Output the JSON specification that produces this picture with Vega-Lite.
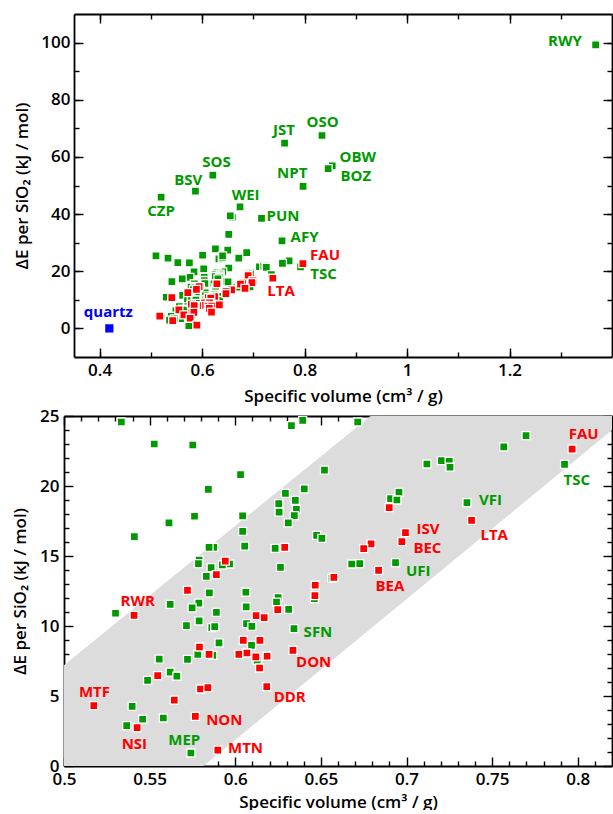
{
  "$schema": "https://vega.github.io/schema/vega-lite/v6.json",
  "padding": {"left": 11, "top": 13, "right": 1, "bottom": 0},
  "config": {
    "view": {"stroke": null},
    "font": "Open Sans",
    "axis": {
      "zindex": 1, "grid": false,
      "domainColor": "black", "domainWidth": 1.8,
      "tickColor": "black", "tickWidth": 1.4,
      "labelFont": "Open Sans", "labelFontSize": 17, "labelFontWeight": 600, "labelColor": "black",
      "titleFont": "Open Sans", "titleFontSize": 17, "titleFontWeight": 600, "titleColor": "black",
      "labelOverlap": false, "labelBound": false, "labelFlush": false
    }
  },
  "spacing": 3,
  "datasets": {
    "pts": [
      {"x": 0.5335, "y": 24.57, "c": "green"}, {"x": 0.5527, "y": 23.0, "c": "green"}, {"x": 0.5752, "y": 22.93, "c": "green"},
      {"x": 0.6328, "y": 24.31, "c": "green"}, {"x": 0.6394, "y": 24.69, "c": "green"}, {"x": 0.6031, "y": 20.81, "c": "green"},
      {"x": 0.5843, "y": 19.76, "c": "green"}, {"x": 0.6521, "y": 21.14, "c": "green"}, {"x": 0.6403, "y": 19.79, "c": "green"},
      {"x": 0.6293, "y": 19.48, "c": "green"}, {"x": 0.6351, "y": 18.98, "c": "green"}, {"x": 0.6254, "y": 18.74, "c": "green"},
      {"x": 0.6357, "y": 18.34, "c": "green"}, {"x": 0.6256, "y": 18.14, "c": "green"}, {"x": 0.6345, "y": 17.89, "c": "green"},
      {"x": 0.631, "y": 17.36, "c": "green"}, {"x": 0.5762, "y": 17.84, "c": "green"}, {"x": 0.6043, "y": 17.86, "c": "green"},
      {"x": 0.5613, "y": 17.36, "c": "green"}, {"x": 0.5411, "y": 16.39, "c": "green"}, {"x": 0.6043, "y": 16.76, "c": "green"},
      {"x": 0.6475, "y": 16.48, "c": "green"}, {"x": 0.6506, "y": 16.26, "c": "green"}, {"x": 0.6055, "y": 15.71, "c": "green"},
      {"x": 0.5874, "y": 15.62, "c": "green"}, {"x": 0.5847, "y": 15.62, "c": "green"}, {"x": 0.6233, "y": 15.55, "c": "green"},
      {"x": 0.5789, "y": 14.71, "c": "green"}, {"x": 0.5785, "y": 14.45, "c": "green"}, {"x": 0.5967, "y": 14.43, "c": "green"},
      {"x": 0.5925, "y": 14.36, "c": "green"}, {"x": 0.5859, "y": 14.17, "c": "green"}, {"x": 0.6264, "y": 14.19, "c": "green"},
      {"x": 0.5831, "y": 13.55, "c": "green"}, {"x": 0.6565, "y": 13.4, "c": "green"}, {"x": 0.6462, "y": 11.95, "c": "green"},
      {"x": 0.5849, "y": 12.36, "c": "green"}, {"x": 0.6062, "y": 12.41, "c": "green"}, {"x": 0.625, "y": 12.03, "c": "green"},
      {"x": 0.6241, "y": 11.71, "c": "green"}, {"x": 0.562, "y": 11.55, "c": "green"}, {"x": 0.5787, "y": 11.64, "c": "green"},
      {"x": 0.5748, "y": 11.29, "c": "green"}, {"x": 0.6064, "y": 11.36, "c": "green"}, {"x": 0.6312, "y": 11.19, "c": "green"},
      {"x": 0.589, "y": 10.98, "c": "green"}, {"x": 0.5301, "y": 10.91, "c": "green"}, {"x": 0.5715, "y": 10.03, "c": "green"},
      {"x": 0.5789, "y": 10.36, "c": "green"}, {"x": 0.5863, "y": 9.88, "c": "green"}, {"x": 0.588, "y": 9.95, "c": "green"},
      {"x": 0.5905, "y": 8.79, "c": "green"}, {"x": 0.5869, "y": 7.9, "c": "green"}, {"x": 0.5781, "y": 7.98, "c": "green"},
      {"x": 0.5721, "y": 7.62, "c": "green"}, {"x": 0.5556, "y": 7.64, "c": "green"}, {"x": 0.562, "y": 6.71, "c": "green"},
      {"x": 0.5659, "y": 6.41, "c": "green"}, {"x": 0.5488, "y": 6.12, "c": "green"}, {"x": 0.5398, "y": 4.26, "c": "green"},
      {"x": 0.558, "y": 3.43, "c": "green"}, {"x": 0.5459, "y": 3.34, "c": "green"}, {"x": 0.5366, "y": 2.88, "c": "green"},
      {"x": 0.5741, "y": 0.93, "c": "green"}, {"x": 0.6095, "y": 8.62, "c": "green"}, {"x": 0.6128, "y": 7.55, "c": "green"},
      {"x": 0.6066, "y": 10.17, "c": "green"}, {"x": 0.6097, "y": 9.98, "c": "green"}, {"x": 0.6343, "y": 9.81, "c": "green"},
      {"x": 0.6715, "y": 24.57, "c": "green"}, {"x": 0.7698, "y": 23.6, "c": "green"}, {"x": 0.7568, "y": 22.79, "c": "green"},
      {"x": 0.7923, "y": 21.55, "c": "green"}, {"x": 0.7119, "y": 21.57, "c": "green"}, {"x": 0.7204, "y": 21.81, "c": "green"},
      {"x": 0.725, "y": 21.76, "c": "green"}, {"x": 0.7254, "y": 21.34, "c": "green"}, {"x": 0.6956, "y": 19.55, "c": "green"},
      {"x": 0.6907, "y": 19.1, "c": "green"}, {"x": 0.6944, "y": 19.0, "c": "green"}, {"x": 0.7353, "y": 18.81, "c": "green"},
      {"x": 0.668, "y": 14.43, "c": "green"}, {"x": 0.6727, "y": 14.46, "c": "green"}, {"x": 0.6936, "y": 14.53, "c": "green"},
      {"x": 1.368, "y": 99.2, "c": "green"}, {"x": 0.834, "y": 67.5, "c": "green"}, {"x": 0.761, "y": 64.8, "c": "green"},
      {"x": 0.854, "y": 56.9, "c": "green"}, {"x": 0.846, "y": 55.9, "c": "green"}, {"x": 0.797, "y": 49.7, "c": "green"},
      {"x": 0.621, "y": 53.6, "c": "green"}, {"x": 0.587, "y": 48.0, "c": "green"}, {"x": 0.52, "y": 45.9, "c": "green"},
      {"x": 0.674, "y": 42.5, "c": "green"}, {"x": 0.659, "y": 38.9, "c": "green"}, {"x": 0.655, "y": 39.4, "c": "green"},
      {"x": 0.716, "y": 38.5, "c": "green"}, {"x": 0.652, "y": 32.9, "c": "green"}, {"x": 0.756, "y": 30.6, "c": "green"},
      {"x": 0.626, "y": 27.8, "c": "green"}, {"x": 0.65, "y": 27.4, "c": "green"}, {"x": 0.687, "y": 26.5, "c": "green"},
      {"x": 0.51, "y": 25.4, "c": "green"}, {"x": 0.601, "y": 25.6, "c": "green"}, {"x": 0.64, "y": 25.4, "c": "green"},
      {"x": 0.5942, "y": 14.64, "c": "red"}, {"x": 0.6289, "y": 15.62, "c": "red"}, {"x": 0.589, "y": 13.67, "c": "red"},
      {"x": 0.6576, "y": 13.48, "c": "red"}, {"x": 0.6467, "y": 12.91, "c": "red"}, {"x": 0.6465, "y": 12.17, "c": "red"},
      {"x": 0.5721, "y": 12.55, "c": "red"}, {"x": 0.6248, "y": 11.17, "c": "red"}, {"x": 0.6122, "y": 10.74, "c": "red"},
      {"x": 0.6169, "y": 10.6, "c": "red"}, {"x": 0.5409, "y": 10.76, "c": "red"}, {"x": 0.5791, "y": 8.5, "c": "red"},
      {"x": 0.5847, "y": 7.98, "c": "red"}, {"x": 0.5547, "y": 6.46, "c": "red"}, {"x": 0.5797, "y": 5.5, "c": "red"},
      {"x": 0.584, "y": 5.6, "c": "red"}, {"x": 0.5644, "y": 4.71, "c": "red"}, {"x": 0.5174, "y": 4.31, "c": "red"},
      {"x": 0.5767, "y": 3.55, "c": "red"}, {"x": 0.5427, "y": 2.74, "c": "red"}, {"x": 0.5898, "y": 1.14, "c": "red"},
      {"x": 0.6047, "y": 8.98, "c": "red"}, {"x": 0.6144, "y": 8.98, "c": "red"}, {"x": 0.6021, "y": 7.98, "c": "red"},
      {"x": 0.6068, "y": 8.07, "c": "red"}, {"x": 0.612, "y": 7.79, "c": "red"}, {"x": 0.6186, "y": 7.84, "c": "red"},
      {"x": 0.6142, "y": 7.0, "c": "red"}, {"x": 0.6337, "y": 8.26, "c": "red"}, {"x": 0.6184, "y": 5.67, "c": "red"},
      {"x": 0.7967, "y": 22.64, "c": "red"}, {"x": 0.6899, "y": 18.46, "c": "red"}, {"x": 0.738, "y": 17.55, "c": "red"},
      {"x": 0.6994, "y": 16.67, "c": "red"}, {"x": 0.6973, "y": 16.03, "c": "red"}, {"x": 0.6793, "y": 15.86, "c": "red"},
      {"x": 0.675, "y": 15.53, "c": "red"}, {"x": 0.6837, "y": 13.98, "c": "red"},
      {"x": 0.419, "y": 0, "c": "quartz"}
    ],
    "labTop": [
      {"lx": 1.308, "ly": 100.5, "t": "RWY", "c": "green"}, {"lx": 0.835, "ly": 72.1, "t": "OSO", "c": "green"},
      {"lx": 0.76, "ly": 69.3, "t": "JST", "c": "green"}, {"lx": 0.904, "ly": 59.8, "t": "OBW", "c": "green"},
      {"lx": 0.9, "ly": 53.4, "t": "BOZ", "c": "green"}, {"lx": 0.776, "ly": 54.2, "t": "NPT", "c": "green"},
      {"lx": 0.628, "ly": 58.1, "t": "SOS", "c": "green"}, {"lx": 0.573, "ly": 51.8, "t": "BSV", "c": "green"},
      {"lx": 0.52, "ly": 41.1, "t": "CZP", "c": "green"}, {"lx": 0.685, "ly": 46.7, "t": "WEI", "c": "green"},
      {"lx": 0.758, "ly": 39.2, "t": "PUN", "c": "green"}, {"lx": 0.8, "ly": 31.9, "t": "AFY", "c": "green"},
      {"lx": 0.84, "ly": 25.7, "t": "FAU", "c": "red"}, {"lx": 0.837, "ly": 19.1, "t": "TSC", "c": "green"},
      {"lx": 0.754, "ly": 13.2, "t": "LTA", "c": "red"}, {"lx": 0.417, "ly": 5.7, "t": "quartz", "c": "quartz"}
    ],
    "labBot": [
      {"lx": 0.8035, "ly": 23.7, "t": "FAU", "c": "red"}, {"lx": 0.7994, "ly": 20.4, "t": "TSC", "c": "green"},
      {"lx": 0.749, "ly": 18.98, "t": "VFI", "c": "green"}, {"lx": 0.7512, "ly": 16.5, "t": "LTA", "c": "red"},
      {"lx": 0.7126, "ly": 16.95, "t": "ISV", "c": "red"}, {"lx": 0.7122, "ly": 15.55, "t": "BEC", "c": "red"},
      {"lx": 0.7068, "ly": 13.9, "t": "UFI", "c": "green"}, {"lx": 0.6903, "ly": 12.84, "t": "BEA", "c": "red"},
      {"lx": 0.6483, "ly": 9.57, "t": "SFN", "c": "green"}, {"lx": 0.6458, "ly": 7.43, "t": "DON", "c": "red"},
      {"lx": 0.6318, "ly": 4.93, "t": "DDR", "c": "red"}, {"lx": 0.5936, "ly": 3.26, "t": "NON", "c": "red"},
      {"lx": 0.606, "ly": 1.26, "t": "MTN", "c": "red"}, {"lx": 0.5702, "ly": 1.89, "t": "MEP", "c": "green"},
      {"lx": 0.5411, "ly": 1.6, "t": "NSI", "c": "red"}, {"lx": 0.5178, "ly": 5.31, "t": "MTF", "c": "red"},
      {"lx": 0.543, "ly": 11.79, "t": "RWR", "c": "red"}
    ],
    "band": [
      {"bx": 0.5, "lo": 0, "hi": 7.2}, {"bx": 0.5814, "lo": 0, "hi": 15.3},
      {"bx": 0.679, "lo": 9.8, "hi": 25}, {"bx": 0.82, "lo": 24, "hi": 25}
    ]
  },
  "vconcat": [
    {
      "width": 548, "height": 343,
      "resolve": {"axis": {"x": "independent", "y": "independent"}},
      "layer": [
        {
          "data": {"name": "pts"},
          "mark": {"type": "point", "shape": "square", "filled": true, "size": 64, "stroke": "white", "strokeWidth": 1.3, "opacity": 1},
          "encoding": {
            "x": {"field": "x", "type": "quantitative", "scale": {"domain": [0.35, 1.4], "range": [10, 548], "zero": false, "nice": false},
              "axis": {"orient": "bottom", "values": [0.4, 0.6, 0.8, 1, 1.2], "format": "~g", "tickSize": -9, "labelPadding": 14, "titlePadding": 10, "title": "Specific volume (cm³ / g)"}},
            "y": {"field": "y", "type": "quantitative", "scale": {"domain": [-10, 110], "zero": false, "nice": false},
              "axis": {"orient": "left", "offset": -10, "values": [0, 20, 40, 60, 80, 100], "tickSize": -9, "labelPadding": 13, "titlePadding": 9, "title": "ΔE per SiO₂ (kJ / mol)"}},
            "color": {"field": "c", "type": "nominal", "scale": {"domain": ["green", "red", "quartz"], "range": ["#009a00", "#ff0000", "#0000ff"]}, "legend": null},
            "size": {"condition": {"test": "datum.c === 'quartz'", "value": 90}, "value": 64}
          }
        },
        {
          "data": {"name": "labTop"},
          "mark": {"type": "text", "font": "Open Sans", "fontWeight": "bold", "fontSize": 15, "align": "center", "baseline": "middle"},
          "encoding": {
            "x": {"field": "lx", "type": "quantitative", "axis": {"orient": "top", "values": [0.4, 0.6, 0.8, 1, 1.2], "labels": false, "tickSize": -9, "title": null}},
            "y": {"field": "ly", "type": "quantitative", "axis": {"orient": "right", "values": [0, 20, 40, 60, 80, 100], "labels": false, "tickSize": -9, "title": null}},
            "text": {"field": "t"},
            "color": {"field": "c", "type": "nominal", "legend": null}
          }
        },
        {
          "data": {"name": "pts"},
          "mark": {"type": "point", "opacity": 0},
          "encoding": {
            "x": {"field": "x", "type": "quantitative", "axis": {"orient": "bottom", "values": [0.4, 0.5, 0.6, 0.7, 0.8, 0.9, 1, 1.1, 1.2, 1.3], "labels": false, "domain": false, "tickSize": -5, "title": null}},
            "y": {"field": "y", "type": "quantitative", "axis": {"orient": "left", "offset": -10, "values": [0, 10, 20, 30, 40, 50, 60, 70, 80, 90, 100], "labels": false, "domain": false, "tickSize": -5, "title": null}}
          }
        },
        {
          "data": {"name": "pts"},
          "mark": {"type": "point", "opacity": 0},
          "encoding": {
            "x": {"field": "x", "type": "quantitative", "axis": {"orient": "top", "values": [0.4, 0.5, 0.6, 0.7, 0.8, 0.9, 1, 1.1, 1.2, 1.3], "labels": false, "domain": false, "tickSize": -5, "title": null}},
            "y": {"field": "y", "type": "quantitative", "axis": {"orient": "right", "values": [0, 10, 20, 30, 40, 50, 60, 70, 80, 90, 100], "labels": false, "domain": false, "tickSize": -5, "title": null}}
          }
        }
      ]
    },
    {
      "width": 548, "height": 350,
      "resolve": {"axis": {"x": "independent", "y": "independent"}},
      "layer": [
        {
          "data": {"name": "band"},
          "mark": {"type": "area", "color": "#dcdcdc", "opacity": 1},
          "encoding": {
            "x": {"field": "bx", "type": "quantitative", "scale": {"domain": [0.5, 0.82], "zero": false, "nice": false},
              "axis": {"orient": "top", "values": [0.5, 0.55, 0.6, 0.65, 0.7, 0.75, 0.8], "labels": false, "tickSize": -9, "title": null}},
            "y": {"field": "lo", "type": "quantitative", "scale": {"domain": [0, 25], "zero": false, "nice": false},
              "axis": {"orient": "right", "values": [0, 5, 10, 15, 20, 25], "labels": false, "tickSize": -9, "title": null}},
            "y2": {"field": "hi"}
          }
        },
        {
          "data": {"name": "pts"},
          "mark": {"type": "point", "shape": "square", "filled": true, "stroke": "white", "strokeWidth": 1.3, "opacity": 1, "clip": true},
          "encoding": {
            "x": {"field": "x", "type": "quantitative",
              "axis": {"orient": "bottom", "values": [0.5, 0.55, 0.6, 0.65, 0.7, 0.75, 0.8], "format": "~g", "tickSize": -9, "labelPadding": 14, "titlePadding": 7, "title": "Specific volume (cm³ / g)"}},
            "y": {"field": "y", "type": "quantitative",
              "axis": {"orient": "left", "values": [0, 5, 10, 15, 20, 25], "tickSize": -9, "labelPadding": 14, "titlePadding": 10, "title": "ΔE per SiO₂ (kJ / mol)"}},
            "color": {"field": "c", "type": "nominal", "legend": null},
            "size": {"condition": {"test": "datum.c === 'quartz'", "value": 90}, "value": 64}
          }
        },
        {
          "data": {"name": "labBot"},
          "mark": {"type": "text", "font": "Open Sans", "fontWeight": "bold", "fontSize": 15, "align": "center", "baseline": "middle"},
          "encoding": {
            "x": {"field": "lx", "type": "quantitative", "axis": {"orient": "bottom", "values": [0.51, 0.52, 0.53, 0.54, 0.56, 0.57, 0.58, 0.59, 0.61, 0.62, 0.63, 0.64, 0.66, 0.67, 0.68, 0.69, 0.71, 0.72, 0.73, 0.74, 0.76, 0.77, 0.78, 0.79, 0.81], "labels": false, "domain": false, "tickSize": -5, "title": null}},
            "y": {"field": "ly", "type": "quantitative", "axis": {"orient": "left", "values": [1, 2, 3, 4, 6, 7, 8, 9, 11, 12, 13, 14, 16, 17, 18, 19, 21, 22, 23, 24], "labels": false, "domain": false, "tickSize": -5, "title": null}},
            "text": {"field": "t"},
            "color": {"field": "c", "type": "nominal", "legend": null}
          }
        },
        {
          "data": {"name": "labBot"},
          "mark": {"type": "point", "opacity": 0},
          "encoding": {
            "x": {"field": "lx", "type": "quantitative", "axis": {"orient": "top", "values": [0.51, 0.52, 0.53, 0.54, 0.56, 0.57, 0.58, 0.59, 0.61, 0.62, 0.63, 0.64, 0.66, 0.67, 0.68, 0.69, 0.71, 0.72, 0.73, 0.74, 0.76, 0.77, 0.78, 0.79, 0.81], "labels": false, "domain": false, "tickSize": -5, "title": null}},
            "y": {"field": "ly", "type": "quantitative", "axis": {"orient": "right", "values": [1, 2, 3, 4, 6, 7, 8, 9, 11, 12, 13, 14, 16, 17, 18, 19, 21, 22, 23, 24], "labels": false, "domain": false, "tickSize": -5, "title": null}}
          }
        }
      ]
    }
  ]
}
